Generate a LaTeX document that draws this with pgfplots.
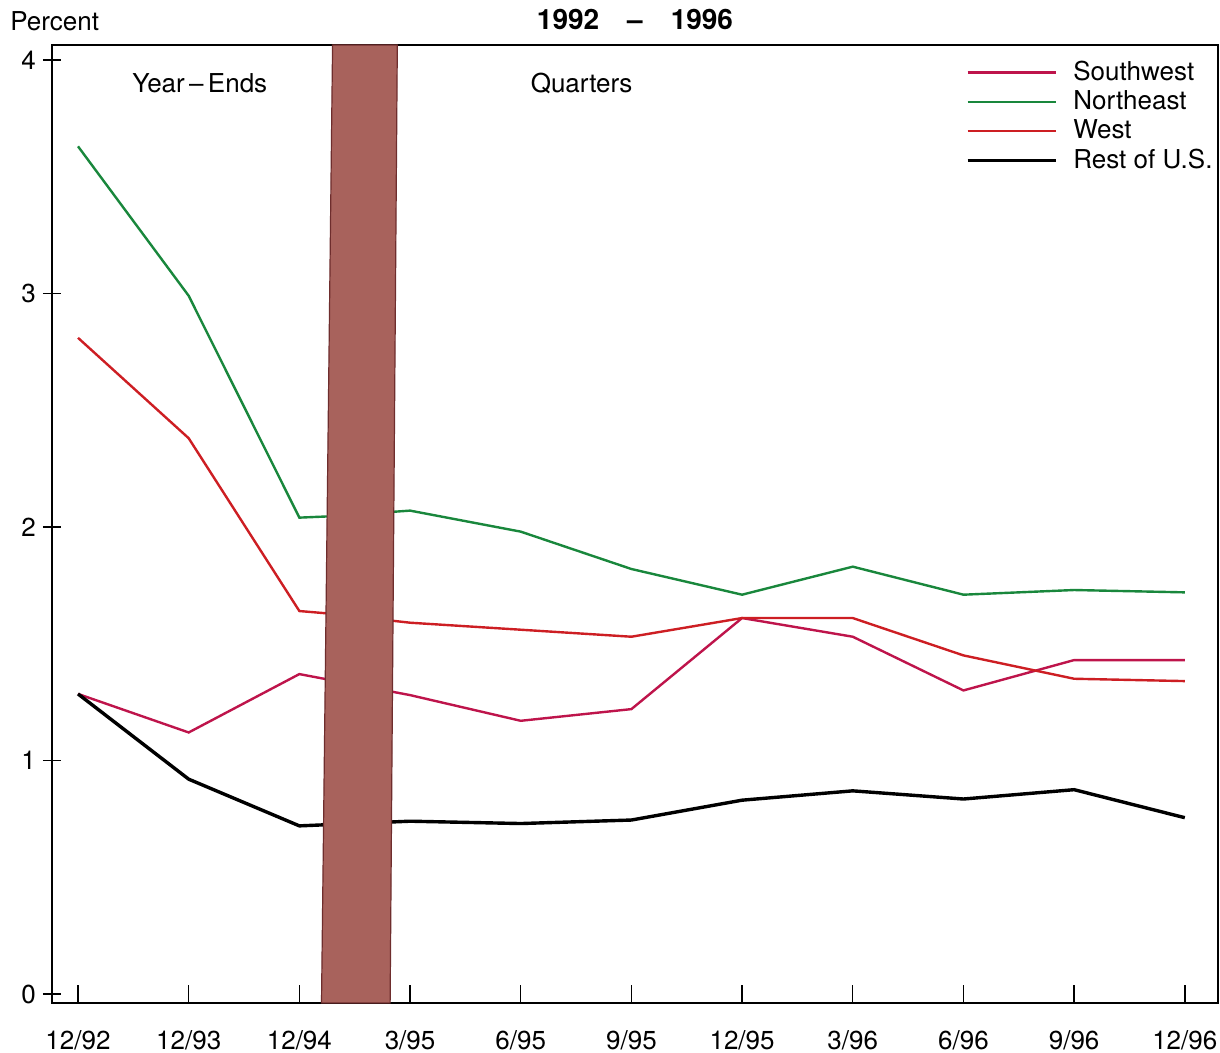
\documentclass[border=0pt]{standalone}
\usepackage{pgfplots}
\pgfplotsset{compat=1.18}
\usepackage{fontspec}
\setmainfont{TeX Gyre Heros}

\definecolor{swcol}{RGB}{190,20,75}
\definecolor{necol}{RGB}{25,135,60}
\definecolor{wcol}{RGB}{205,30,35}
\definecolor{barfill}{RGB}{168,98,92}
\definecolor{baredge}{RGB}{110,45,45}

\begin{document}
\fontsize{13}{15}\selectfont
\begin{tikzpicture}
\begin{axis}[
    scale only axis,
    width=583pt, height=479pt,
    clip=false,
    xmin=-0.235, xmax=10.30,
    ymin=-0.0385, ymax=4.064,
    xtick={0,1,2,3,4,5,6,7,8,9,10},
    xticklabels={12/92,12/93,12/94,3/95,6/95,9/95,12/95,3/96,6/96,9/96,12/96},
    ytick={0,1,2,3,4},
    xtick pos=bottom, ytick pos=left,
    xtick align=inside,
    ytick align=center,
    major tick length=9pt,
    tick style={black, line width=0.7pt},
    xticklabel style={yshift=-9pt},
    yticklabel style={xshift=1pt},
    axis line style={line width=0.7pt},
    /pgf/number format/assume math mode=true,
    tick label style={font=\fontsize{13}{15}\selectfont},
    title={\textbf{1992\quad--\quad1996}},
    title style={font=\fontsize{14}{16}\selectfont, yshift=-3pt},
    legend style={at={(rel axis cs:0.7835,0.988)}, anchor=north west,
        draw=none, fill=none, font=\fontsize{13}{15}\selectfont,
        row sep=-0.8pt, column sep=6pt, inner sep=0pt},
    legend cell align=left,
    legend image code/.code={\draw[#1] (0pt,0pt) -- (44pt,0pt);},
]

\addplot[swcol, line width=1.2pt] coordinates {
    (0,1.285) (1,1.12) (2,1.37) (3,1.28) (4,1.17) (5,1.22)
    (6,1.61) (7,1.53) (8,1.30) (9,1.43) (10,1.43)
};
\addlegendentry{Southwest}

\addplot[necol, line width=1.2pt] coordinates {
    (0,3.63) (1,2.99) (2,2.04) (2.25,2.045) (3,2.07) (4,1.98) (5,1.82)
    (6,1.71) (7,1.83) (8,1.71) (9,1.73) (10,1.72)
};
\addlegendentry{Northeast}

\addplot[wcol, line width=1.2pt] coordinates {
    (0,2.81) (1,2.38) (2,1.64) (2.25,1.63) (3,1.59) (4,1.56) (5,1.53)
    (6,1.61) (7,1.61) (8,1.45) (9,1.35) (10,1.34)
};
\addlegendentry{West}

\addplot[black, line width=1.7pt] coordinates {
    (0,1.285) (1,0.92) (2,0.72) (2.25,0.725) (3,0.74) (4,0.73) (5,0.745)
    (6,0.83) (7,0.87) (8,0.835) (9,0.875) (10,0.755)
};
\addlegendentry{Rest of U.S.}

% shaded separator band
\addplot[fill=barfill, draw=baredge, line width=0.6pt, forget plot] coordinates {
    (2.20,-0.0385) (2.82,-0.0385) (2.885,4.064) (2.30,4.064)
} -- cycle;

\node at (axis cs:1.10,3.90) {Year\,--\,Ends};
\node at (axis cs:4.55,3.90) {Quarters};
\node[anchor=base west, inner sep=0pt] at (rel axis cs:-0.036,1.0146) {Percent};

\end{axis}
\pgfresetboundingbox
\path ([shift={(-26pt,-25pt)}]current axis.south west)
    rectangle ([shift={(1pt,22.5pt)}]current axis.north east);
\end{tikzpicture}
\end{document}
